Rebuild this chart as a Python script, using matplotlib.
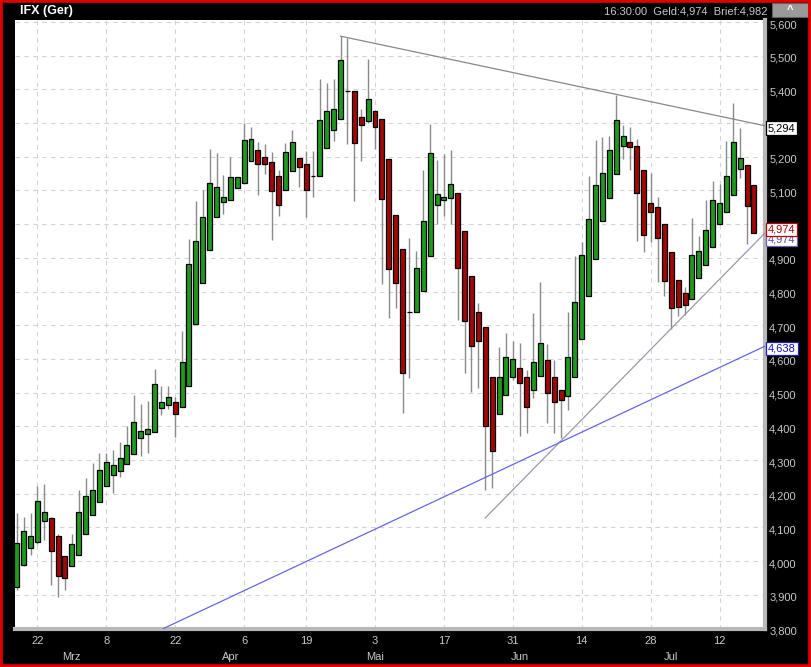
import numpy as np
import matplotlib
matplotlib.use('Agg')
import matplotlib.pyplot as plt
import matplotlib.patches as mpatches
import matplotlib.transforms as mtrans

plt.rcParams['font.family'] = ['Liberation Sans', 'DejaVu Sans']

# daily OHLC, IFX Xetra, 17 Feb - 19 Jul
opens = [3.922, 3.988, 4.038, 4.056, 4.119, 4.127, 4.076, 4.014, 3.985, 4.017,
         4.079, 4.136, 4.174, 4.222, 4.257, 4.268, 4.287, 4.317, 4.366, 4.376,
         4.382, 4.453, 4.463, 4.471, 4.457, 4.521, 4.703, 4.824, 4.922, 5.022,
         5.067, 5.073, 5.106, 5.121, 5.187, 5.219, 5.198, 5.186, 5.142, 5.100,
         5.157, 5.195, 5.180, 5.143, 5.144, 5.225, 5.281, 5.311, 5.395, 5.395,
         5.317, 5.305, 5.337, 5.311, 5.192, 5.026, 4.925, 4.739, 4.740, 4.803,
         4.907, 5.058, 5.073, 5.079, 5.094, 4.981, 4.845, 4.740, 4.696, 4.545,
         4.438, 4.492, 4.547, 4.572, 4.547, 4.508, 4.548, 4.597, 4.545, 4.508,
         4.491, 4.547, 4.658, 4.787, 4.898, 5.008, 5.079, 5.150, 5.231, 5.243,
         5.233, 5.162, 5.064, 5.050, 5.002, 4.916, 4.833, 4.795, 4.777, 4.841,
         4.880, 4.931, 5.002, 5.035, 5.088, 5.165, 5.177, 5.115]
highs = [4.144, 4.130, 4.142, 4.223, 4.228, 4.130, 4.080, 4.015, 4.079, 4.211,
         4.246, 4.290, 4.320, 4.320, 4.330, 4.354, 4.400, 4.493, 4.466, 4.475,
         4.569, 4.520, 4.520, 4.488, 4.684, 4.956, 5.068, 5.101, 5.223, 5.210,
         5.146, 5.198, 5.139, 5.299, 5.287, 5.244, 5.237, 5.215, 5.160, 5.242,
         5.279, 5.195, 5.218, 5.218, 5.432, 5.419, 5.432, 5.558, 5.554, 5.395,
         5.343, 5.490, 5.337, 5.311, 5.192, 5.026, 4.925, 4.958, 4.920, 5.162,
         5.296, 5.190, 5.207, 5.220, 5.094, 4.981, 4.845, 4.765, 4.696, 4.545,
         4.634, 4.678, 4.652, 4.646, 4.567, 4.735, 4.827, 4.644, 4.597, 4.508,
         4.738, 4.905, 4.948, 5.143, 5.251, 5.259, 5.261, 5.383, 5.294, 5.289,
         5.254, 5.162, 5.152, 5.081, 5.002, 4.916, 4.833, 4.814, 5.017, 4.965,
         5.073, 5.128, 5.118, 5.246, 5.361, 5.284, 5.177, 5.115]
lows = [3.915, 3.985, 4.018, 4.050, 4.063, 3.929, 3.893, 3.914, 3.985, 4.017,
        4.079, 4.136, 4.174, 4.222, 4.201, 4.250, 4.287, 4.317, 4.312, 4.320,
        4.382, 4.434, 4.450, 4.369, 4.457, 4.521, 4.703, 4.824, 4.922, 5.020,
        5.029, 5.073, 5.106, 5.121, 5.187, 5.088, 5.149, 4.953, 5.025, 5.100,
        5.157, 5.109, 5.020, 5.081, 5.144, 5.225, 5.247, 5.311, 5.238, 5.068,
        5.187, 5.299, 5.223, 4.821, 4.722, 4.750, 4.440, 4.542, 4.740, 4.803,
        4.907, 5.000, 5.025, 5.002, 4.715, 4.557, 4.503, 4.513, 4.211, 4.216,
        4.438, 4.492, 4.537, 4.371, 4.381, 4.483, 4.548, 4.409, 4.381, 4.366,
        4.448, 4.547, 4.658, 4.787, 4.898, 5.008, 5.079, 5.150, 5.192, 5.162,
        4.951, 4.918, 4.948, 4.829, 4.788, 4.688, 4.727, 4.730, 4.777, 4.841,
        4.880, 4.931, 5.002, 5.035, 5.088, 5.136, 4.940, 4.974]
closes = [4.053, 4.089, 4.076, 4.177, 4.146, 4.029, 3.957, 3.949, 4.050, 4.145,
          4.192, 4.210, 4.269, 4.293, 4.284, 4.305, 4.346, 4.414, 4.386, 4.391,
          4.526, 4.471, 4.486, 4.437, 4.590, 4.882, 4.950, 5.020, 5.121, 5.109,
          5.080, 5.139, 5.139, 5.251, 5.254, 5.180, 5.180, 5.097, 5.058, 5.213,
          5.243, 5.169, 5.100, 5.143, 5.309, 5.335, 5.343, 5.486, 5.395, 5.240,
          5.293, 5.372, 5.287, 5.076, 4.866, 4.826, 4.557, 4.739, 4.869, 5.008,
          5.210, 5.091, 5.081, 5.118, 4.869, 4.713, 4.639, 4.654, 4.401, 4.328,
          4.545, 4.607, 4.599, 4.530, 4.458, 4.590, 4.646, 4.498, 4.471, 4.478,
          4.607, 4.768, 4.910, 5.014, 5.115, 5.153, 5.219, 5.308, 5.261, 5.228,
          5.094, 4.969, 5.035, 4.959, 4.832, 4.752, 4.755, 4.759, 4.908, 4.919,
          4.984, 5.073, 5.064, 5.142, 5.245, 5.195, 5.055, 4.974]

# date axis
day_ticks = [3, 13, 23, 33, 42, 52, 62, 72, 82, 92, 102]
day_labels = ['22', '8', '22', '6', '19', '3', '17', '31', '14', '28', '12']
month_pos = [8, 31, 52, 73, 95]
month_names = ['Mrz', 'Apr', 'Mai', 'Jun', 'Jul']

# drawn trend lines (index, price)
resist_x, resist_y = [47, 108.6], [5.558, 5.292]
support_x, support_y = [68, 108.6], [4.128, 4.974]
long_x, long_y = [21.3, 108.6], [3.800, 4.638]

fig = plt.figure(figsize=(8.11, 6.67), dpi=100, facecolor='black')
ax = fig.add_axes([15 / 811, 38 / 667, 750 / 811, 609 / 667])
ax.set_facecolor('white')

x = np.arange(len(opens))
o = np.array(opens); c = np.array(closes)
up = c >= o
cols = np.where(up, '#1f9a1f', '#a30808')
ax.vlines(x, lows, highs, color='#8a8a8a', lw=1, zorder=2)
ax.bar(x, c - o, bottom=o, width=0.72, color=cols, edgecolor='black',
       linewidth=0.9, zorder=3)

ax.plot(resist_x, resist_y, color='#888888', lw=0.9, zorder=4)
ax.plot(support_x, support_y, color='#9a98b0', lw=0.9, zorder=4)
ax.plot(long_x, long_y, color='#6666e6', lw=0.9, zorder=4)

ax.set_xlim(-0.25, 108.6)
ax.set_ylim(3.7985, 5.606)
yt = np.arange(3.8, 5.61, 0.1)
ax.set_yticks(yt)
ax.set_yticklabels([('%.3f' % v).replace('.', ',') for v in yt])
ax.yaxis.tick_right()
ax.set_xticks(day_ticks)
ax.set_xticklabels(day_labels)
ax.tick_params(axis='both', length=0, colors='#c8c8c8', labelsize=8)
ax.tick_params(axis='x', pad=5)
ax.tick_params(axis='y', pad=3)
off = mtrans.ScaledTranslation(0, -2 / 100, fig.dpi_scale_trans)
for lab in ax.get_yticklabels():
    lab.set_transform(lab.get_transform() + off)
ax.grid(True, color='#d4d4d4', lw=0.8, ls=(0, (4, 4)))
ax.set_axisbelow(True)
for s in ['top', 'left']:
    ax.spines[s].set_visible(False)
for s in ['right', 'bottom']:
    ax.spines[s].set_color('#b8b8b8')
    ax.spines[s].set_linewidth(3)

for pos, name in zip(month_pos, month_names):
    ax.annotate(name, xy=(pos, 0), xycoords=('data', 'axes fraction'),
                xytext=(0, -20), textcoords='offset points', ha='center',
                va='center', color='#c8c8c8', fontsize=8)

# value boxes at the right edge
tr = mtrans.blended_transform_factory(ax.transAxes, ax.transData)
boxes = [(5.285, '5,294', 'black', 'black', 5),
         (4.955, '4,974', '#5050a0', '#7060b0', 5),
         (4.985, '4,974', '#b00000', '#c00000', 6),
         (4.632, '4,638', '#1010c0', '#2020c0', 5)]
for yv, txt, tc, ec, z in boxes:
    ax.text(1.004, yv, txt, transform=tr, ha='left', va='center', fontsize=8,
            color=tc, zorder=z, clip_on=False,
            bbox=dict(boxstyle='square,pad=0.15', fc='white', ec=ec, lw=0.9))

fig.text(20 / 811, 1 - 11 / 667, 'IFX (Ger)', color='white', fontsize=9,
         fontweight='bold', va='center', ha='left')
fig.text(768 / 811, 1 - 11 / 667, '16:30:00  Geld:4,974  Brief:4,982',
         color='#c8c8c8', fontsize=8, va='center', ha='right')
fig.patches.append(mpatches.Rectangle((772 / 811, 1 - 17 / 667), 36 / 811, 14 / 667,
                                      transform=fig.transFigure, fc='#9a9a9a',
                                      ec='#606060', lw=0.8))
fig.text(790 / 811, 1 - 10 / 667, '^', color='white', fontsize=8,
         fontweight='bold', ha='center', va='center')
fig.patches.append(mpatches.Rectangle((0, 0), 1, 1, transform=fig.transFigure,
                                      fill=False, ec='#e00000', lw=4))

fig.savefig('out.png', dpi=100, facecolor='black')
